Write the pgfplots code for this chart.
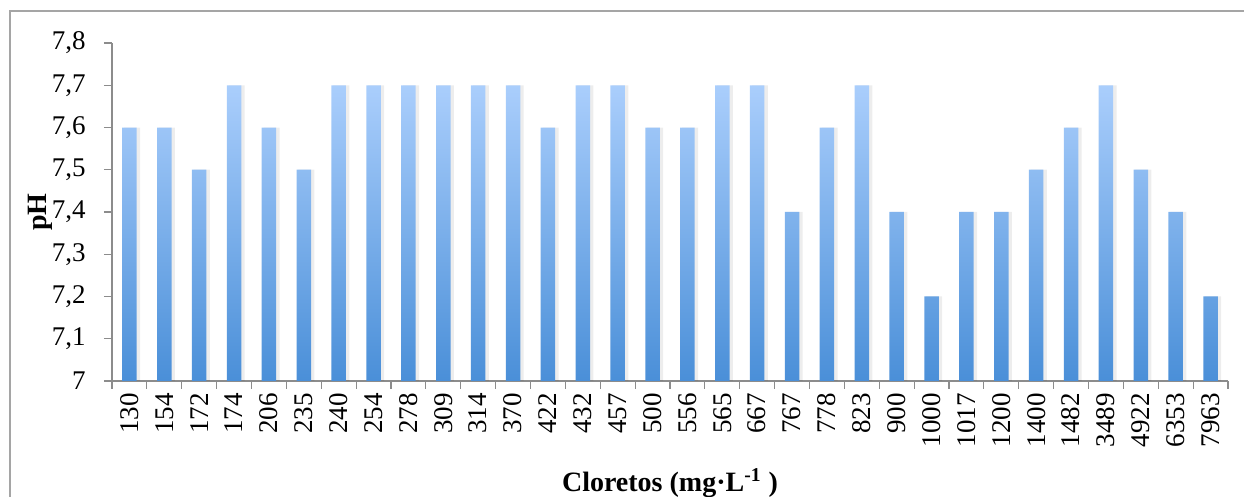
\documentclass[border=0pt]{standalone}
\usepackage{fontspec}
\setmainfont{Liberation Serif}
\usepackage{pgfplots}
\pgfplotsset{compat=1.18}
\definecolor{bartop}{RGB}{170,206,252}
\definecolor{barbot}{RGB}{74,143,216}
\definecolor{axgray}{RGB}{140,140,140}
\definecolor{framegray}{RGB}{165,165,165}
\pgfplotstableread{
x y
0 7.6
1 7.6
2 7.5
3 7.7
4 7.6
5 7.5
6 7.7
7 7.7
8 7.7
9 7.7
10 7.7
11 7.7
12 7.6
13 7.7
14 7.7
15 7.6
16 7.6
17 7.7
18 7.7
19 7.4
20 7.6
21 7.7
22 7.4
23 7.2
24 7.4
25 7.4
26 7.5
27 7.6
28 7.7
29 7.5
30 7.4
31 7.2
}\phdata
\begin{document}
\begin{tikzpicture}[x=1pt,y=1pt]
\useasboundingbox (0,0) rectangle (622,248.5);
\draw[framegray, line width=1pt] (5,-2) -- (5,243) -- (625,243);
\begin{axis}[
  at={(56pt,58pt)}, anchor=south west,
  scale only axis, width=558pt, height=169pt,
  ybar, bar width=7.25pt,
  y coord trafo/.code={\pgfmathparse{#1-7}},
  y coord inv trafo/.code={\pgfmathparse{#1+7}},
  ymin=7, ymax=7.8,
  ytick={7,7.1,7.2,7.3,7.4,7.5,7.6,7.7,7.8},
  yticklabels={7,{7,1},{7,2},{7,3},{7,4},{7,5},{7,6},{7,7},{7,8}},
  xmin=-0.5, xmax=31.5,
  xtick={-0.5,0.5,...,31.5},
  x tick label as interval,
  xticklabels={130,154,172,174,206,235,240,254,278,309,314,370,422,432,457,500,556,565,667,767,778,823,900,1000,1017,1200,1400,1482,3489,4922,6353,7963},
  axis x line*=bottom, axis y line*=left,
  axis line style={-, draw=axgray, line width=0.6pt},
  tick align=outside, major tick length=4pt,
  tick style={draw=axgray, line width=0.6pt},
  xticklabel style={rotate=90, anchor=east, font=\fontsize{13.5}{16}\selectfont, inner sep=2pt},
  yticklabel style={font=\fontsize{13.5}{16}\selectfont, inner sep=2pt, xshift=-7pt},
  xlabel={Cloretos (mg·L\textsuperscript{-1} )},
  ylabel={pH},
  every axis x label/.style={at={(axis description cs:0.5,0)}, yshift=-55.5pt, anchor=base, font=\bfseries\fontsize{14}{16}\selectfont},
  every axis y label/.style={at={(axis description cs:0,0.5)}, xshift=-36pt, rotate=90, anchor=center, font=\bfseries\fontsize{14}{16}\selectfont},
]
\addplot[draw=none, fill=black, fill opacity=0.07, bar shift=1.3pt, bar width=8pt] table[x=x,y=y] {\phdata};
\addplot[draw=none, top color=bartop, bottom color=barbot, bar shift=0pt] table[x=x,y=y] {\phdata};
\end{axis}
\end{tikzpicture}
\end{document}
